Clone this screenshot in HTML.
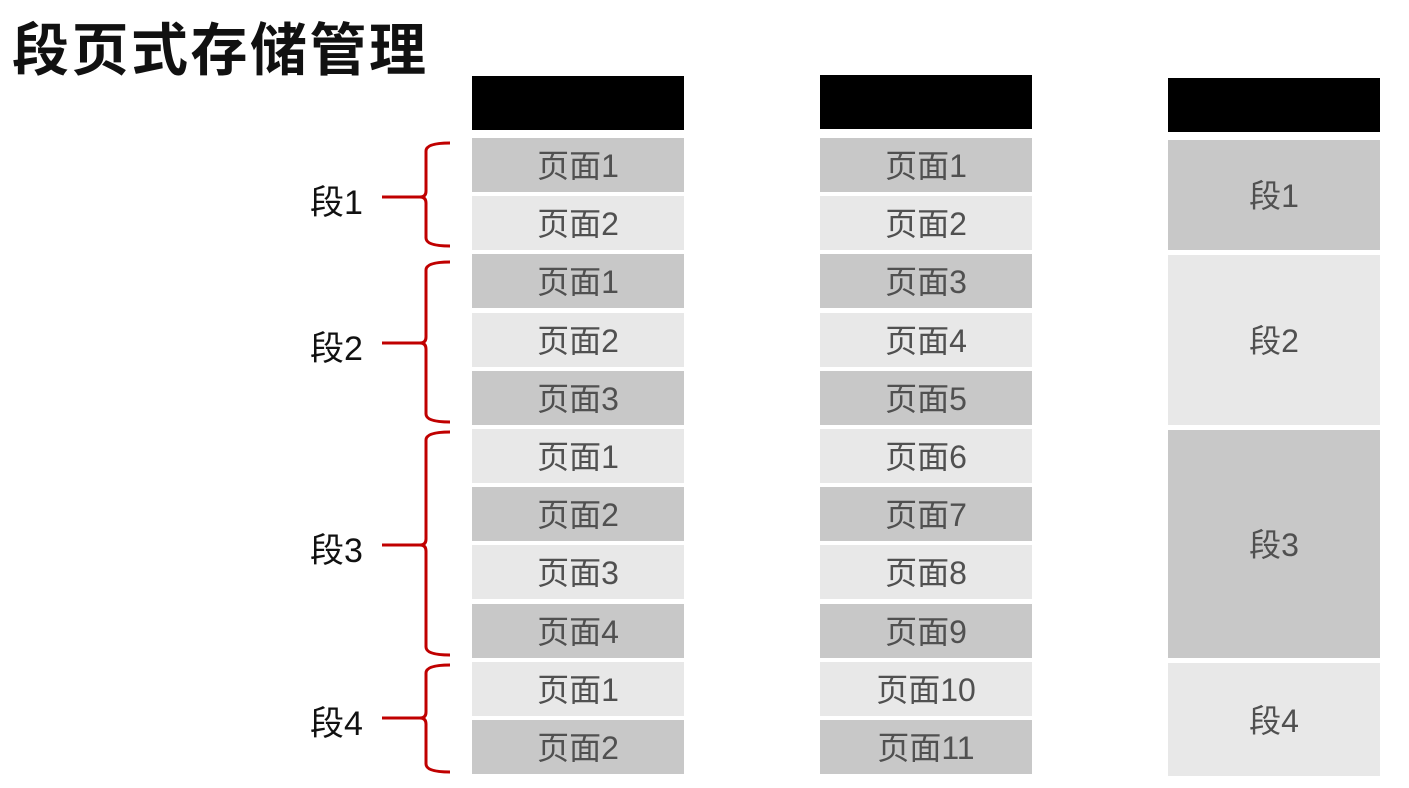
<!DOCTYPE html>
<html><head><meta charset="utf-8"><style>
body{margin:0;width:1409px;height:788px;background:#fff;position:relative;overflow:hidden;font-family:"Liberation Sans","Noto Sans CJK SC",sans-serif;}
.a{position:absolute;}
.r{position:absolute;display:flex;align-items:center;justify-content:center;color:#505050;font-size:32px;padding-bottom:2px;box-sizing:border-box;}
.d{background:#c8c8c8}.l{background:#e8e8e8}
.h{position:absolute;background:#000}
.lab{position:absolute;font-size:34px;color:#111;}
</style></head><body>
<div class="a" style="left:12px;top:17px;font-size:57px;font-weight:bold;color:#111;letter-spacing:2.5px;line-height:68px;">段页式存储管理</div>

<div class="h" style="left:472px;top:76px;width:212px;height:54px"></div>
<div class="h" style="left:820px;top:75px;width:212px;height:54px"></div>
<div class="h" style="left:1168px;top:78px;width:212px;height:54px"></div>

<div id="c1"></div>
<script>
var c1=["页面1","页面2","页面1","页面2","页面3","页面1","页面2","页面3","页面4","页面1","页面2"];
var c2=["页面1","页面2","页面3","页面4","页面5","页面6","页面7","页面8","页面9","页面10","页面11"];
var h="";
for(var i=0;i<11;i++){
 var t=138+i*58.2, cls=(i%2==0)?"d":"l";
 h+='<div class="r '+cls+'" style="left:472px;top:'+t+'px;width:212px;height:54px">'+c1[i]+'</div>';
 h+='<div class="r '+cls+'" style="left:820px;top:'+t+'px;width:212px;height:54px">'+c2[i]+'</div>';
}
document.getElementById("c1").innerHTML=h;
</script>

<div class="r d" style="left:1168px;top:140px;width:212px;height:110px">段1</div>
<div class="r l" style="left:1168px;top:255px;width:212px;height:170px">段2</div>
<div class="r d" style="left:1168px;top:430px;width:212px;height:228px">段3</div>
<div class="r l" style="left:1168px;top:663px;width:212px;height:113px">段4</div>

<div class="lab" style="left:310px;top:175px">段1</div>
<div class="lab" style="left:310px;top:321px">段2</div>
<div class="lab" style="left:310px;top:523px">段3</div>
<div class="lab" style="left:310px;top:696px">段4</div>

<svg class="a" style="left:0;top:0" width="1409" height="788">
<g fill="none" stroke="#c00000" stroke-width="3">
<path d="M450,143 Q426,143 426,151 L426,191 Q426,197 420,197 Q426,197 426,203 L426,238 Q426,246 450,246"/>
<path d="M382,197 L420,197"/>
<path d="M450,262 Q426,262 426,270 L426,337 Q426,343 420,343 Q426,343 426,349 L426,414 Q426,422 450,422"/>
<path d="M382,343 L420,343"/>
<path d="M450,432 Q426,432 426,440 L426,539 Q426,545 420,545 Q426,545 426,551 L426,647 Q426,655 450,655"/>
<path d="M382,545 L420,545"/>
<path d="M450,665 Q426,665 426,673 L426,712 Q426,718 420,718 Q426,718 426,724 L426,764 Q426,772 450,772"/>
<path d="M382,718 L420,718"/>
</g></svg>
</body></html>
